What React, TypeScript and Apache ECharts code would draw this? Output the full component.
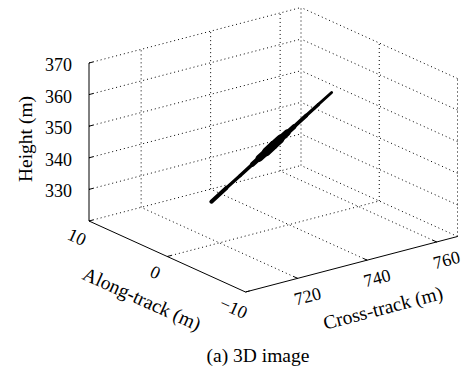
import React, { useEffect, useRef } from 'react';
import * as echarts from 'echarts';

// Box extents (metres)
const crossRange = [705, 766];
const alongRange = [-10, 10];
const heightRange = [320, 370];

// Tick positions and labels
const crossTicks = [720, 740, 760];
const alongTicks = [-10, 0, 10];
const heightTicks = [330, 340, 350, 360, 370];
const crossTickLabels = ['720', '740', '760'];
const alongTickLabels = ['−10', '0', '10'];
const heightTickLabels = ['330', '340', '350', '360', '370'];

// Reconstructed target samples
const trackCross = [717.7, 722, 726, 729.5, 731.5, 733.5, 735.5, 737.5, 739.5, 741.5, 745, 748.5, 752.3];
const trackAlong = [0, 0, 0, 0, 0, 0, 0, 0, 0, 0, 0, 0, 0];
const trackHeight = [333.7, 336.8, 339.6, 342.1, 343.5, 344.9, 346.4, 347.8, 349.2, 350.6, 353.1, 355.6, 358.3];
// stroke width (px) of the track at each sample
const trackWidth = [5, 3.2, 3.2, 3.8, 6, 8.5, 9, 8, 5.5, 4.2, 3.6, 3.1, 2.6];

// Screen placement of the 3-D box in the hidden 2-D grid (pixel units)
const BOX_ORIGIN = [245.5, 292];
const CROSS_SPAN = [212, -55.5];
const ALONG_SPAN = [-156.5, -71];
const HEIGHT_SPAN = [0, -158];

const FONT_FAMILY = '"Liberation Serif", "DejaVu Serif", serif';
const TICK_SIZE = 18;
const TITLE_SIZE = 19.5;

function project(c: number, a: number, h: number): number[] {
  const fc = (c - crossRange[0]) / (crossRange[1] - crossRange[0]);
  const fa = (a - alongRange[0]) / (alongRange[1] - alongRange[0]);
  const fh = (h - heightRange[0]) / (heightRange[1] - heightRange[0]);
  return [
    BOX_ORIGIN[0] + fc * CROSS_SPAN[0] + fa * ALONG_SPAN[0] + fh * HEIGHT_SPAN[0],
    BOX_ORIGIN[1] + fc * CROSS_SPAN[1] + fa * ALONG_SPAN[1] + fh * HEIGHT_SPAN[1],
  ];
}

function buildGridLines(): number[][] {
  const [c0, c1] = crossRange;
  const [a0, a1] = alongRange;
  const [h0, h1] = heightRange;
  const lines: number[][] = [];
  // back wall at along = a1
  heightTicks.forEach((h) => lines.push([c0, a1, h, c1, a1, h]));
  crossTicks.forEach((c) => lines.push([c, a1, h0, c, a1, h1]));
  // back wall at cross = c1
  [h0, ...heightTicks].forEach((h) => lines.push([c1, a0, h, c1, a1, h]));
  alongTicks.forEach((a) => lines.push([c1, a, h0, c1, a, h1]));
  // floor
  crossTicks.forEach((c) => lines.push([c, a0, h0, c, a1, h0]));
  alongTicks.filter((a) => a !== a0).forEach((a) => lines.push([c0, a, h0, c1, a, h0]));
  return lines;
}

function buildAxisLines(): number[][] {
  const [c0, c1] = crossRange;
  const [a0, a1] = alongRange;
  const [h0, h1] = heightRange;
  const lines: number[][] = [
    [c0, a1, h0, c0, a1, h1],
    [c0, a1, h0, c0, a0, h0],
    [c0, a0, h0, c1, a0, h0],
  ];
  heightTicks.forEach((h) => lines.push([c0, a1, h, c0 + 1.2, a1, h]));
  alongTicks.forEach((a) => lines.push([c0, a, h0, c0 + 1.2, a, h0]));
  crossTicks.forEach((c) => lines.push([c, a0, h0, c, a0 + 0.5, h0]));
  return lines;
}

function segmentRenderer(style: any) {
  return (_params: any, api: any) => {
    const p1 = api.coord(project(api.value(0), api.value(1), api.value(2)));
    const p2 = api.coord(project(api.value(3), api.value(4), api.value(5)));
    return {
      type: 'line',
      shape: { x1: p1[0], y1: p1[1], x2: p2[0], y2: p2[1] },
      style,
    };
  };
}

function textStyle(text: string, align: string, size: number) {
  return {
    text,
    fill: '#000',
    fontFamily: FONT_FAMILY,
    fontSize: size,
    align,
    verticalAlign: 'middle',
  };
}

function labelRenderer(labels: string[], dx: number, dy: number, rotation: number, align: string) {
  return (params: any, api: any) => {
    const p = api.coord(project(api.value(0), api.value(1), api.value(2)));
    return {
      type: 'text',
      x: p[0] + dx,
      y: p[1] + dy,
      rotation,
      style: textStyle(labels[params.dataIndex], align, TICK_SIZE),
    };
  };
}

export default function App() {
  const ref = useRef<HTMLDivElement>(null);

  useEffect(() => {
    if (!ref.current) return;
    const chart = echarts.init(ref.current, undefined, { renderer: 'svg' });
    const [c0] = crossRange;
    const [a0, a1] = alongRange;
    const [h0] = heightRange;

    const trackSegments = trackCross.slice(0, -1).map((c, i) => [
      c, trackAlong[i], trackHeight[i],
      trackCross[i + 1], trackAlong[i + 1], trackHeight[i + 1],
    ]);

    const crossAngle = Math.atan2(-CROSS_SPAN[1], CROSS_SPAN[0]);
    const alongAngle = -Math.atan2(ALONG_SPAN[1], ALONG_SPAN[0]) - Math.PI;

    chart.setOption({
      animation: false,
      backgroundColor: '#fff',
      grid: { left: 0, right: 0, top: 0, bottom: 0 },
      xAxis: { type: 'value', min: 0, max: 465, show: false },
      yAxis: { type: 'value', min: 0, max: 372, inverse: true, show: false },
      series: [
        {
          type: 'custom',
          silent: true,
          data: buildGridLines(),
          renderItem: segmentRenderer({ stroke: '#000', lineWidth: 1, lineDash: [1, 3] }),
        },
        {
          type: 'custom',
          silent: true,
          data: buildAxisLines(),
          renderItem: segmentRenderer({ stroke: '#000', lineWidth: 1 }),
        },
        {
          type: 'custom',
          silent: true,
          data: trackSegments,
          renderItem: (params: any, api: any) => {
            const i = params.dataIndex;
            const p1 = api.coord(project(api.value(0), api.value(1), api.value(2)));
            const p2 = api.coord(project(api.value(3), api.value(4), api.value(5)));
            return {
              type: 'line',
              shape: { x1: p1[0], y1: p1[1], x2: p2[0], y2: p2[1] },
              style: {
                stroke: '#000',
                lineWidth: (trackWidth[i] + trackWidth[i + 1]) / 2,
                lineCap: 'round',
              },
            };
          },
        },
        {
          type: 'custom',
          silent: true,
          data: heightTicks.map((h) => [c0, a1, h]),
          renderItem: labelRenderer(heightTickLabels, -17, 2, 0, 'right'),
        },
        {
          type: 'custom',
          silent: true,
          data: alongTicks.map((a) => [c0, a, h0]),
          renderItem: labelRenderer(alongTickLabels, -12, 16, alongAngle, 'center'),
        },
        {
          type: 'custom',
          silent: true,
          data: crossTicks.map((c) => [c, a0, h0]),
          renderItem: labelRenderer(crossTickLabels, 10, 18, crossAngle, 'center'),
        },
      ],
      graphic: [
        { type: 'text', x: 25, y: 139, rotation: Math.PI / 2, style: textStyle('Height (m)', 'center', TITLE_SIZE) },
        { type: 'text', x: 142, y: 299, rotation: alongAngle, style: textStyle('Along-track (m)', 'center', TITLE_SIZE) },
        { type: 'text', x: 383, y: 308, rotation: crossAngle, style: textStyle('Cross-track (m)', 'center', TITLE_SIZE) },
        { type: 'text', x: 258, y: 355, style: textStyle('(a) 3D image', 'center', TITLE_SIZE) },
      ],
    });
    return () => chart.dispose();
  }, []);

  return (
    <div
      ref={ref}
      style={{ position: 'absolute', left: 0, top: 0, width: 465, height: 372 }}
    />
  );
}
